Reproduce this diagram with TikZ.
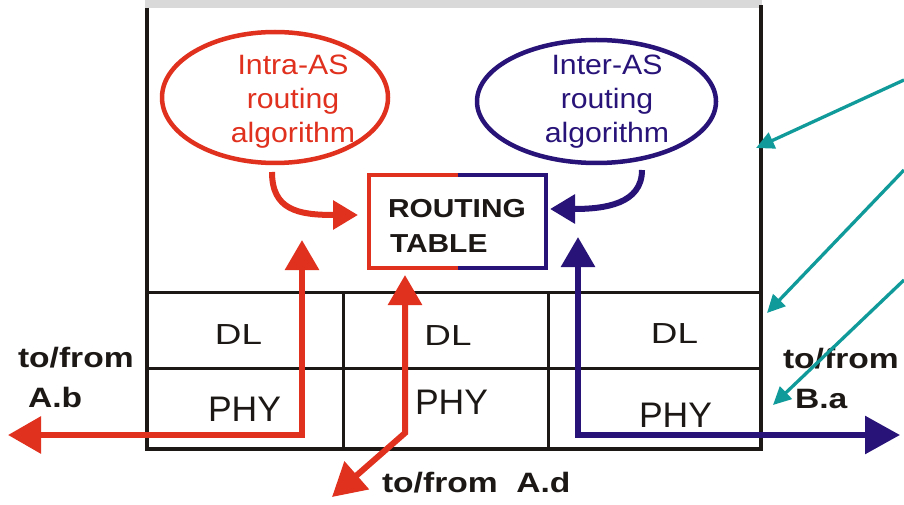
\documentclass[tikz,border=0pt]{standalone}
\usepackage{fontspec}
\setmainfont{Liberation Sans}
\newfontfamily\fDL[FakeStretch=1.27]{Liberation Sans}
\newfontfamily\fEll[FakeStretch=1.08]{Liberation Sans}
\newfontfamily\fRT[FakeStretch=1.15]{Liberation Sans}
\newfontfamily\fLab[FakeStretch=1.2]{Liberation Sans}
\usetikzlibrary{arrows.meta,shapes.geometric}
\definecolor{myred}{RGB}{224,48,30}
\definecolor{myblue}{RGB}{40,20,120}
\definecolor{myteal}{RGB}{17,154,154}
\definecolor{ink}{RGB}{28,24,22}
\begin{document}
\begin{tikzpicture}[x=1pt,y=-1pt,
  frame/.style={line width=3.6pt, draw=ink, line join=miter},
  gridline/.style={line width=3pt, draw=ink},
  txt/.style={inner sep=0pt, outer sep=0pt, text=ink},
  dltext/.style={txt, anchor=base, font=\fDL\fontsize{29}{29}\selectfont},
  phytext/.style={txt, anchor=base, font=\fontsize{35.5}{35.5}\selectfont},
  elltext/.style={txt, anchor=base, font=\fEll\fontsize{28}{28}\selectfont},
  rttext/.style={txt, anchor=base west, font=\fRT\bfseries\fontsize{26}{26}\selectfont},
  labtext/.style={txt, anchor=base west, font=\fLab\bfseries\fontsize{28}{28}\selectfont},
  ellbox/.style={ellipse, line width=4.5pt, inner sep=0pt, outer sep=0pt},
  redline/.style={draw=myred, line width=6pt, line join=miter},
  blueline/.style={draw=myblue, line width=6pt, line join=miter},
  bigtips/.style={{Triangle[length=33pt,width=36pt]}-{Triangle[length=30pt,width=33pt]}},
  curvetip/.style={-{Triangle[length=25pt,width=28pt]}},
  tealarrow/.style={draw=myteal, line width=3.3pt, -{Triangle[length=18pt,width=17pt]}}
]
\useasboundingbox (0,0) rectangle (904,505);

% router box
\fill[gray!30] (145,0) rectangle (762,8);
\draw[frame] (147,8) -- (147,449) -- (761,449) -- (761,5);
\draw[gridline] (147,292) -- (761,292);
\draw[gridline] (147,368) -- (761,368);
\draw[gridline] (343,292) -- (343,449);
\draw[gridline] (548,292) -- (548,449);

% layer labels
\node[dltext] (dl1) at (238.5,344) {DL};
\node[dltext] (dl2) at (448,345) {DL};
\node[dltext] (dl3) at (674.5,343) {DL};
\node[phytext] (phy1) at (244.5,421) {PHY};
\node[phytext] (phy2) at (451.5,414) {PHY};
\node[phytext] (phy3) at (675.5,427) {PHY};

% routing algorithms
\node[ellbox, draw=myred, minimum width=226pt, minimum height=131pt] (intra) at (275,97.5) {};
\node[elltext, text=myred] (intra1) at (293,75) {Intra-AS};
\node[elltext, text=myred] (intra2) at (293,109) {routing};
\node[elltext, text=myred] (intra3) at (293,143) {algorithm};
\node[ellbox, draw=myblue, minimum width=239pt, minimum height=123pt] (inter) at (596.5,101.5) {};
\node[elltext, text=myblue] (inter1) at (607,75) {Inter-AS};
\node[elltext, text=myblue] (inter2) at (607,109) {routing};
\node[elltext, text=myblue] (inter3) at (607,143) {algorithm};

% routing table
\node[minimum width=177pt, minimum height=93pt, inner sep=0pt, outer sep=0pt] (rt) at (457.5,221.5) {};
\draw[myred, line width=4.5pt, line join=miter] (rt.north) -| (rt.south west) -- (rt.south);
\draw[myblue, line width=4.5pt, line join=miter] (rt.north) -| (rt.south east) -- (rt.south);
\node[rttext] (rt1) at (388,217) {ROUTING};
\node[rttext] (rt2) at (390,252) {TABLE};

% curved arrows into the table
\coordinate (intraOut) at (272,172);
\coordinate (interOut) at (642,170);
\draw[redline, curvetip] (intraOut) .. controls +(0,38) and +(-60,0) .. ([shift={(-11,-6.5)}]rt.west);
\draw[blueline, curvetip] (interOut) .. controls +(0,34) and +(55,0) .. ([shift={(4,-12.5)}]rt.east);

% interface paths
\coordinate (Ab) at (8,435);
\coordinate (abUp) at (302,240);
\draw[redline, bigtips] (Ab) -| (abUp);
\coordinate (Ad) at (332,497);
\coordinate (adBend) at (405,433);
\coordinate (adUp) at (405,275);
\draw[redline, bigtips] (Ad) -- (adBend) -- (adUp);
\coordinate (baUp) at (578,237);
\coordinate (Ba) at (900,435);
\draw[blueline, {Triangle[length=30pt,width=33pt]}-{Triangle[length=35pt,width=37pt]}] (baUp) |- (Ba);

% labels
\node[labtext] (ab1) at (18,367) {to/from};
\node[labtext] (ab2) at (28,407) {A.b};
\node[labtext] (ba1) at (783,368) {to/from};
\node[labtext] (ba2) at (795,408) {B.a};
\node[labtext] (ad1) at (382,492) {to/from\ \ A.d};

% pointer arrows
\coordinate (t1s) at (904,80);
\coordinate (t1e) at (756,148);
\coordinate (t2s) at (904,170);
\coordinate (t2e) at (767,313);
\coordinate (t3s) at (904,280);
\coordinate (t3e) at (773,405);
\draw[tealarrow] (t1s) -- (t1e);
\draw[tealarrow] (t2s) -- (t2e);
\draw[tealarrow] (t3s) -- (t3e);
\end{tikzpicture}
\end{document}
